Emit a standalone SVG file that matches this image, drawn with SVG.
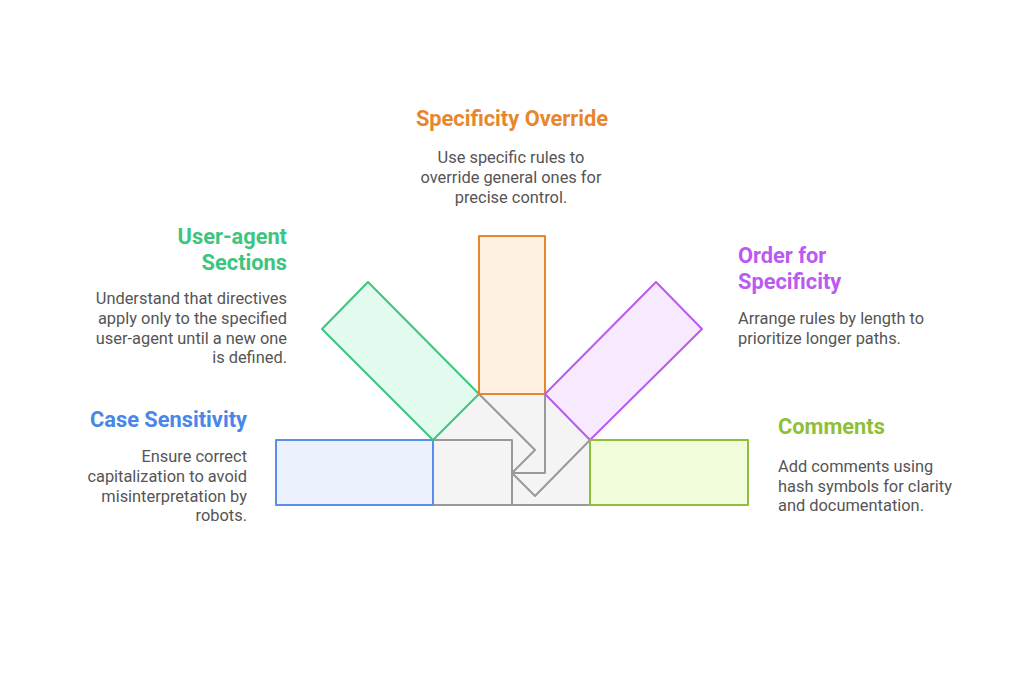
<svg xmlns="http://www.w3.org/2000/svg" width="1024" height="696" viewBox="0 0 1024 696">
<style>
.t{font-family:Roboto,"Liberation Sans",sans-serif;font-weight:700;font-size:21.8px}
.d{font-family:Roboto,"Liberation Sans",sans-serif;font-size:16.4px;fill:#555}
.g{fill:none;stroke:#999;stroke-width:2;stroke-linejoin:round}
.s{stroke-width:2;stroke-linejoin:round}
</style>
<rect width="1024" height="696" fill="#fff"/>
<g id="connectors">
<polygon points="433,440 479,394 545,394 590,440 590,505 433,505" fill="#f4f4f4"/>
<path class="g" d="M433,440 H512 V505 M433,505 H590 M479,394 L535,450 L512,473 M512,473 H545 V394 M512,473 L535,496 L590,440"/>
</g>
<g id="case-sensitivity">
<rect class="s" x="276" y="440" width="157" height="65" fill="#ebf2fe" stroke="#5b8def"/>
<text class="t" x="247" y="427" text-anchor="end" fill="#4a86e8">Case Sensitivity</text>
<text class="d" text-anchor="end"><tspan x="247" y="462">Ensure correct</tspan><tspan x="247" y="482">capitalization to avoid</tspan><tspan x="247" y="502">misinterpretation by</tspan><tspan x="247" y="521">robots.</tspan></text>
</g>
<g id="user-agent-sections">
<polygon class="s" points="479,394 433,440 322,329 368,282" fill="#e3fbef" stroke="#3cc57f"/>
<text class="t" text-anchor="end" fill="#3cc57f"><tspan x="287" y="244">User-agent</tspan><tspan x="287" y="270">Sections</tspan></text>
<text class="d" text-anchor="end"><tspan x="287" y="304">Understand that directives</tspan><tspan x="287" y="324">apply only to the specified</tspan><tspan x="287" y="344">user-agent until a new one</tspan><tspan x="287" y="363">is defined.</tspan></text>
</g>
<g id="specificity-override">
<rect class="s" x="479" y="236" width="66" height="158" fill="#fef1e4" stroke="#e8862e"/>
<text class="t" x="512" y="126" text-anchor="middle" fill="#e8862e">Specificity Override</text>
<text class="d" text-anchor="middle"><tspan x="511" y="163">Use specific rules to</tspan><tspan x="511" y="183">override general ones for</tspan><tspan x="511" y="203">precise control.</tspan></text>
</g>
<g id="order-for-specificity">
<polygon class="s" points="545,394 590,440 702,329 656,282" fill="#f8eafe" stroke="#bb5af0"/>
<text class="t" fill="#bb5af0"><tspan x="738" y="263">Order for</tspan><tspan x="738" y="289">Specificity</tspan></text>
<text class="d"><tspan x="738" y="324">Arrange rules by length to</tspan><tspan x="738" y="344">prioritize longer paths.</tspan></text>
</g>
<g id="comments">
<rect class="s" x="590" y="440" width="158" height="65" fill="#f1fcdb" stroke="#8fbf3a"/>
<text class="t" x="778" y="434" fill="#8fbf3a">Comments</text>
<text class="d"><tspan x="778" y="472">Add comments using</tspan><tspan x="778" y="492">hash symbols for clarity</tspan><tspan x="778" y="511">and documentation.</tspan></text>
</g>
</svg>
